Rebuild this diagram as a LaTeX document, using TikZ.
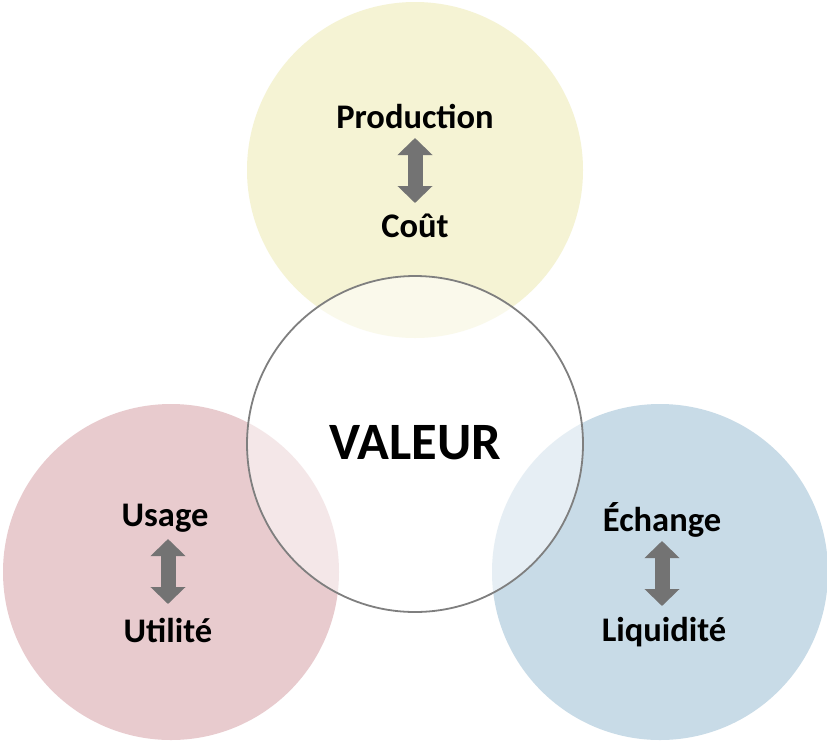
\documentclass[tikz,border=0pt]{standalone}
\usepackage{fontspec}
\setmainfont{Carlito}
\usetikzlibrary{arrows.meta}
\definecolor{cyel}{HTML}{F5F3D4}
\definecolor{cpink}{HTML}{E8CBCE}
\definecolor{cblue}{HTML}{C8DBE7}
\definecolor{carrow}{HTML}{737373}
\definecolor{cedge}{HTML}{7F7F7F}
\tikzset{
  bubble/.style={circle, minimum size=336pt, inner sep=0pt, draw=none},
  lbl/.style={font=\fontsize{34.5}{36}\selectfont\bfseries, inner sep=0pt},
  dbl/.style={carrow, line width=15pt,
    {Triangle[width=34pt,length=17pt]}-{Triangle[width=34pt,length=17pt]}}
}
\begin{document}
\begin{tikzpicture}[x=1pt,y=-1pt]
\useasboundingbox (0,0) rectangle (827,740);
\fill[white] (0,0) rectangle (827,740);
\node[bubble, fill=cyel] (top) at (415,170) {};
\node[bubble, fill=cpink] (left) at (171,572) {};
\node[bubble, fill=cblue] (right) at (660,572) {};
\node[bubble, fill=white, fill opacity=0.55, draw=cedge, line width=1.8pt, text opacity=1] (mid) at (415,444) {};
\node[font=\fontsize{52.5}{54}\selectfont\bfseries] (val) at (415,443) {VALEUR};
\node[lbl] (prod) at (415,116) {Production};
\node[lbl] (cout) at (415,226) {Coût};
\coordinate (p1) at (415,138);
\coordinate (p2) at (415,203);
\draw[dbl] (p1) -- (p2);
\node[lbl] (usage) at (165,518) {Usage};
\node[lbl] (util) at (168,630) {Utilité};
\coordinate (u1) at (168,539);
\coordinate (u2) at (168,604);
\draw[dbl] (u1) -- (u2);
\node[lbl] (ech) at (662,520) {Échange};
\node[lbl] (liq) at (664,632) {Liquidité};
\coordinate (e1) at (662,541);
\coordinate (e2) at (662,606);
\draw[dbl] (e1) -- (e2);
\end{tikzpicture}
\end{document}
